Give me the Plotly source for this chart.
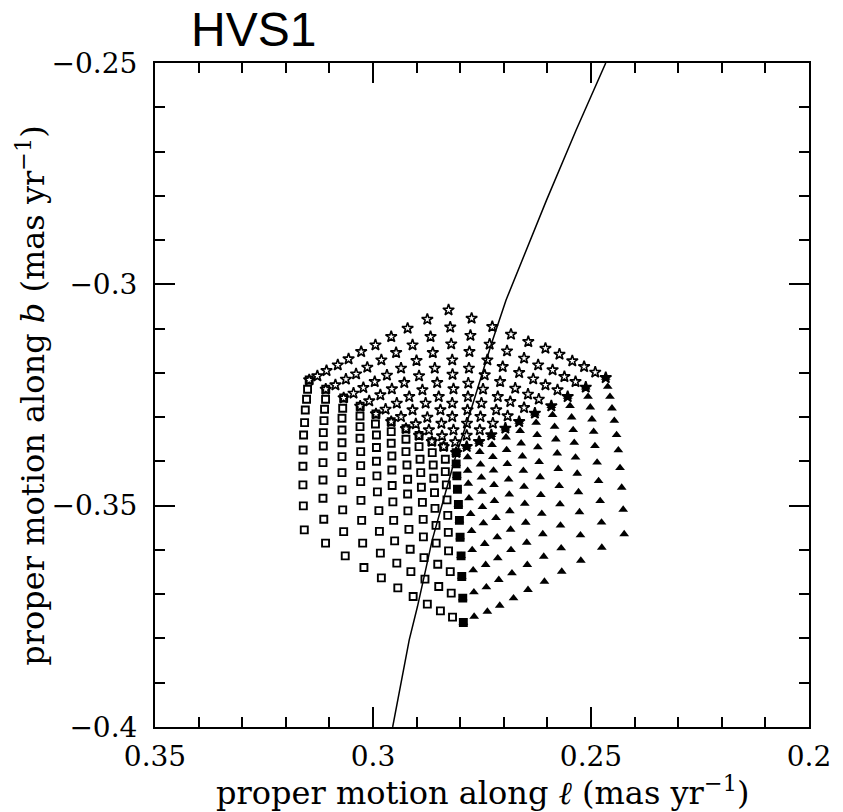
import plotly.graph_objects as go

# ---------------- data (proper motions, mas/yr) ----------------
# top face (stars), listed by near-vertical columns
STAR_X = [
    [0.31463],
    [0.31276, 0.31084],
    [0.31066, 0.30862, 0.30673],
    [0.30808, 0.30621, 0.30447, 0.30294],
    [0.30560, 0.30388, 0.30221, 0.30086, 0.29932],
    [0.30271, 0.30131, 0.29960, 0.29831, 0.29711, 0.29582],
    [0.29944, 0.29808, 0.29680, 0.29567, 0.29454, 0.29357, 0.29244],
    [0.29582, 0.29470, 0.29357, 0.29282, 0.29169, 0.29093, 0.29018, 0.28944],
    [0.29206, 0.29093, 0.29002, 0.28944, 0.28867, 0.28793, 0.28754, 0.28718, 0.28650],
    [0.28754, 0.28680, 0.28628, 0.28583, 0.28528, 0.28492, 0.28454, 0.28431, 0.28416, 0.28379],
    [0.28267, 0.28228, 0.28206, 0.28183, 0.28176, 0.28154, 0.28183, 0.28183, 0.28154, 0.28115, 0.28093],
    [0.27738, 0.27765, 0.27788, 0.27799, 0.27815, 0.27822, 0.27833, 0.27844, 0.27851, 0.27851],
    [0.27264, 0.27325, 0.27377, 0.27438, 0.27476, 0.27513, 0.27535, 0.27551, 0.27567],
    [0.26835, 0.26926, 0.27025, 0.27084, 0.27138, 0.27174, 0.27251, 0.27287],
    [0.26438, 0.26535, 0.26648, 0.26738, 0.26851, 0.26912, 0.26964],
    [0.26045, 0.26212, 0.26325, 0.26445, 0.26535, 0.26648],
    [0.25723, 0.25881, 0.26045, 0.26197, 0.26287],
    [0.25429, 0.25610, 0.25768, 0.25910],
    [0.25158, 0.25355, 0.25535],
    [0.24903, 0.25120],
    [0.24662],
]
STAR_Y = [
    [-0.32161],
    [-0.32071, -0.32371],
    [-0.31951, -0.32274, -0.32568],
    [-0.31823, -0.32145, -0.32461, -0.32755],
    [-0.31687, -0.32026, -0.32335, -0.32635, -0.32929],
    [-0.31522, -0.31875, -0.32200, -0.32500, -0.32823, -0.33103],
    [-0.31371, -0.31710, -0.32055, -0.32364, -0.32687, -0.32990, -0.33261],
    [-0.31184, -0.31545, -0.31897, -0.32222, -0.32538, -0.32838, -0.33154, -0.33414],
    [-0.30994, -0.31371, -0.31726, -0.32071, -0.32387, -0.32687, -0.33008, -0.33290, -0.33554],
    [-0.30791, -0.31184, -0.31545, -0.31897, -0.32222, -0.32538, -0.32838, -0.33143, -0.33425, -0.33667],
    [-0.30581, -0.30969, -0.31349, -0.31710, -0.32037, -0.32364, -0.32687, -0.32990, -0.33290, -0.33561, -0.33802],
    [-0.30768, -0.31157, -0.31522, -0.31897, -0.32236, -0.32538, -0.32838, -0.33139, -0.33414, -0.33667],
    [-0.30958, -0.31355, -0.31710, -0.32048, -0.32371, -0.32687, -0.32990, -0.33290, -0.33554],
    [-0.31130, -0.31507, -0.31861, -0.32200, -0.32538, -0.32838, -0.33139, -0.33403],
    [-0.31297, -0.31671, -0.31996, -0.32349, -0.32651, -0.32974, -0.33252],
    [-0.31446, -0.31823, -0.32139, -0.32484, -0.32787, -0.33103],
    [-0.31581, -0.31935, -0.32274, -0.32597, -0.32913],
    [-0.31732, -0.32087, -0.32387, -0.32748],
    [-0.31861, -0.32200, -0.32538],
    [-0.31987, -0.32326],
    [-0.32109],
]

# left face (open squares), by columns; last column is the seam with the triangle face
SQUARE_X = [
    [0.31463, 0.31501, 0.31524, 0.31553, 0.31569, 0.31592, 0.31603, 0.31607, 0.31607, 0.31598, 0.31576],
    [0.31084, 0.31088, 0.31111, 0.31124, 0.31140, 0.31140, 0.31147, 0.31147, 0.31147, 0.31129, 0.31088],
    [0.30673, 0.30695, 0.30711, 0.30711, 0.30711, 0.30711, 0.30711, 0.30711, 0.30695, 0.30673, 0.30637],
    [0.30294, 0.30298, 0.30298, 0.30298, 0.30282, 0.30282, 0.30282, 0.30276, 0.30260, 0.30237, 0.30208],
    [0.29932, 0.29944, 0.29921, 0.29921, 0.29921, 0.29910, 0.29899, 0.29865, 0.29853, 0.29831, 0.29808],
    [0.29582, 0.29582, 0.29582, 0.29567, 0.29567, 0.29560, 0.29544, 0.29526, 0.29504, 0.29454, 0.29431],
    [0.29244, 0.29244, 0.29244, 0.29221, 0.29206, 0.29206, 0.29199, 0.29176, 0.29147, 0.29131, 0.29079],
    [0.28944, 0.28944, 0.28921, 0.28905, 0.28890, 0.28867, 0.28849, 0.28844, 0.28831, 0.28808, 0.28754],
    [0.28650, 0.28641, 0.28619, 0.28605, 0.28589, 0.28578, 0.28555, 0.28551, 0.28515, 0.28492, 0.28454],
    [0.28379, 0.28341, 0.28341, 0.28318, 0.28303, 0.28285, 0.28273, 0.28267, 0.28228, 0.28206, 0.28176],
    [0.28093, 0.28093, 0.28077, 0.28063, 0.28041, 0.28018, 0.28002, 0.27980, 0.27964, 0.27941, 0.27928],
]
SQUARE_Y = [
    [-0.32161, -0.32371, -0.32597, -0.32838, -0.33125, -0.33403, -0.33741, -0.34109, -0.34531, -0.35005, -0.35547],
    [-0.32371, -0.32597, -0.32823, -0.33080, -0.33351, -0.33651, -0.34028, -0.34419, -0.34832, -0.35306, -0.35847],
    [-0.32568, -0.32800, -0.33026, -0.33290, -0.33577, -0.33893, -0.34254, -0.34644, -0.35096, -0.35586, -0.36134],
    [-0.32755, -0.32974, -0.33215, -0.33477, -0.33780, -0.34096, -0.34457, -0.34881, -0.35333, -0.35847, -0.36398],
    [-0.32929, -0.33154, -0.33403, -0.33685, -0.33996, -0.34328, -0.34689, -0.35112, -0.35581, -0.36073, -0.36631],
    [-0.33103, -0.33328, -0.33590, -0.33877, -0.34193, -0.34543, -0.34915, -0.35333, -0.35796, -0.36299, -0.36856],
    [-0.33261, -0.33500, -0.33780, -0.34080, -0.34403, -0.34735, -0.35118, -0.35536, -0.35983, -0.36489, -0.37053],
    [-0.33414, -0.33667, -0.33951, -0.34254, -0.34583, -0.34926, -0.35310, -0.35705, -0.36173, -0.36660, -0.37224],
    [-0.33554, -0.33802, -0.34080, -0.34380, -0.34705, -0.35062, -0.35446, -0.35847, -0.36322, -0.36827, -0.37376],
    [-0.33667, -0.33951, -0.34231, -0.34531, -0.34870, -0.35220, -0.35604, -0.36021, -0.36489, -0.36976, -0.37518],
    [-0.33802, -0.34057, -0.34328, -0.34628, -0.34972, -0.35333, -0.35712, -0.36134, -0.36601, -0.37089, -0.37640],
]

# right face (filled triangles), by columns
TRI_X = [
    [0.27851, 0.27829, 0.27829, 0.27815, 0.27799, 0.27761, 0.27738, 0.27725, 0.27702, 0.27686, 0.27680],
    [0.27567, 0.27551, 0.27535, 0.27513, 0.27499, 0.27490, 0.27467, 0.27438, 0.27416, 0.27400, 0.27377],
    [0.27287, 0.27269, 0.27251, 0.27235, 0.27224, 0.27215, 0.27179, 0.27151, 0.27138, 0.27115, 0.27093],
    [0.26964, 0.26948, 0.26935, 0.26919, 0.26890, 0.26874, 0.26862, 0.26844, 0.26835, 0.26813, 0.26777],
    [0.26648, 0.26625, 0.26603, 0.26573, 0.26551, 0.26535, 0.26519, 0.26497, 0.26474, 0.26461, 0.26445],
    [0.26287, 0.26258, 0.26235, 0.26219, 0.26190, 0.26167, 0.26151, 0.26129, 0.26106, 0.26084, 0.26068],
    [0.25910, 0.25881, 0.25835, 0.25806, 0.25774, 0.25752, 0.25729, 0.25711, 0.25700, 0.25684, 0.25671],
    [0.25535, 0.25481, 0.25445, 0.25409, 0.25384, 0.25355, 0.25316, 0.25287, 0.25264, 0.25242, 0.25233],
    [0.25120, 0.25068, 0.25016, 0.24978, 0.24939, 0.24910, 0.24860, 0.24826, 0.24790, 0.24759, 0.24752],
    [0.24662, 0.24616, 0.24565, 0.24519, 0.24465, 0.24413, 0.24373, 0.24334, 0.24296, 0.24262, 0.24239],
]
TRI_Y = [
    [-0.33667, -0.33906, -0.34209, -0.34502, -0.34832, -0.35186, -0.35570, -0.35999, -0.36457, -0.36954, -0.37504],
    [-0.33554, -0.33787, -0.34069, -0.34362, -0.34683, -0.35028, -0.35396, -0.35863, -0.36337, -0.36841, -0.37391],
    [-0.33403, -0.33628, -0.33899, -0.34204, -0.34531, -0.34893, -0.35276, -0.35712, -0.36186, -0.36676, -0.37256],
    [-0.33252, -0.33455, -0.33741, -0.34057, -0.34407, -0.34746, -0.35123, -0.35540, -0.35999, -0.36525, -0.37089],
    [-0.33103, -0.33312, -0.33590, -0.33884, -0.34211, -0.34570, -0.34954, -0.35382, -0.35834, -0.36337, -0.36902],
    [-0.32913, -0.33125, -0.33403, -0.33680, -0.34012, -0.34355, -0.34757, -0.35182, -0.35642, -0.36150, -0.36714],
    [-0.32748, -0.32951, -0.33215, -0.33500, -0.33816, -0.34166, -0.34554, -0.34967, -0.35446, -0.35960, -0.36489],
    [-0.32538, -0.32748, -0.33003, -0.33290, -0.33577, -0.33911, -0.34276, -0.34694, -0.35145, -0.35667, -0.36240],
    [-0.32326, -0.32538, -0.32777, -0.33048, -0.33328, -0.33651, -0.34024, -0.34441, -0.34893, -0.35378, -0.35947],
    [-0.32109, -0.32312, -0.32538, -0.32800, -0.33080, -0.33403, -0.33748, -0.34148, -0.34592, -0.35089, -0.35642],
]

# curve
CURVE_X = [0.24662, 0.25343, 0.26020, 0.26948, 0.27280, 0.27754, 0.28115, 0.28379,
           0.28641, 0.28793, 0.28980, 0.29169, 0.29425, 0.29549]
CURVE_Y = [-0.25, -0.26518, -0.28098, -0.30354, -0.31333, -0.32838, -0.33922, -0.34870,
           -0.35773, -0.36450, -0.37279, -0.38030, -0.39385, -0.40]

X_TICKS = [0.35, 0.3, 0.25, 0.2]
X_TICK_TEXT = ["0.35", "0.3", "0.25", "0.2"]
Y_TICKS = [-0.4, -0.35, -0.3, -0.25]
Y_TICK_TEXT = ["\u22120.4", "\u22120.35", "\u22120.3", "\u22120.25"]

TITLE = "HVS1"
X_TITLE = "proper motion along <i>\u2113</i> (mas yr<sup>\u22121</sup>)"
Y_TITLE = "proper motion along <i>b</i> (mas yr<sup>\u22121</sup>)"


def flat(cols):
    return [v for c in cols for v in c]


fig = go.Figure()

# triangles (including the seam shared with squares)
tri_x = flat(TRI_X) + SQUARE_X[-1]
tri_y = flat(TRI_Y) + SQUARE_Y[-1]
fig.add_trace(go.Scatter(
    x=tri_x, y=tri_y, mode="markers",
    marker=dict(symbol="triangle-up", size=8.5, color="black", line=dict(width=0)),
    showlegend=False, hoverinfo="skip"))

# squares; seam column drawn filled
sq_sym = []
for i, col in enumerate(SQUARE_X):
    sq_sym += (["square"] if i == len(SQUARE_X) - 1 else ["square-open"]) * len(col)
fig.add_trace(go.Scatter(
    x=flat(SQUARE_X), y=flat(SQUARE_Y), mode="markers",
    marker=dict(symbol=sq_sym, size=7, color="black", line=dict(width=1.9, color="black")),
    showlegend=False, hoverinfo="skip"))

# stars; the seam with triangles drawn filled
st_sym = []
for k, col in enumerate(STAR_X):
    s = ["star-open"] * len(col)
    if k >= 10:
        s[-1] = "star"
    st_sym += s
fig.add_trace(go.Scatter(
    x=flat(STAR_X), y=flat(STAR_Y), mode="markers",
    marker=dict(symbol=st_sym, size=8.5, color="black", line=dict(width=1.6, color="black")),
    showlegend=False, hoverinfo="skip"))

fig.add_trace(go.Scatter(
    x=CURVE_X, y=CURVE_Y, mode="lines",
    line=dict(color="black", width=1.5),
    showlegend=False, hoverinfo="skip"))

axis_common = dict(
    showgrid=False, zeroline=False,
    showline=True, linecolor="black", linewidth=2,
    mirror="allticks", ticks="inside", ticklen=20, tickwidth=1.5, tickcolor="black",
    tickfont=dict(family="DejaVu Serif", size=28, color="black"),
)

fig.update_xaxes(
    range=[0.35, 0.2], tickmode="array", tickvals=X_TICKS, ticktext=X_TICK_TEXT,
    ticklabelstandoff=3,
    minor=dict(tickmode="linear", tick0=0.2, dtick=0.01, ticks="inside", ticklen=10,
               tickwidth=1.5, tickcolor="black", showgrid=False),
    **axis_common)
fig.update_yaxes(
    range=[-0.4, -0.25], tickmode="array", tickvals=Y_TICKS, ticktext=Y_TICK_TEXT,
    ticklabelstandoff=10,
    minor=dict(tickmode="linear", tick0=-0.4, dtick=0.01, ticks="inside", ticklen=10,
               tickwidth=1.5, tickcolor="black", showgrid=False),
    **axis_common)

fig.update_layout(
    width=843, height=812,
    margin=dict(l=155, r=24, t=63, b=85),
    paper_bgcolor="white", plot_bgcolor="white",
    hovermode=False,
    annotations=[
        dict(text=TITLE, xref="paper", yref="paper", x=0.0527, y=1.05,
             xanchor="left", yanchor="middle", showarrow=False,
             font=dict(family="Liberation Sans", size=48, color="black")),
        dict(text=X_TITLE, xref="paper", yref="paper", x=0.5, y=-0.097,
             xanchor="center", yanchor="middle", showarrow=False,
             font=dict(family="DejaVu Serif", size=32, color="black")),
        dict(text=Y_TITLE, xref="paper", yref="paper", x=-0.19, y=0.5,
             xanchor="center", yanchor="middle", showarrow=False, textangle=-90,
             font=dict(family="DejaVu Serif", size=32, color="black")),
    ],
)

fig.write_html("out.html")
